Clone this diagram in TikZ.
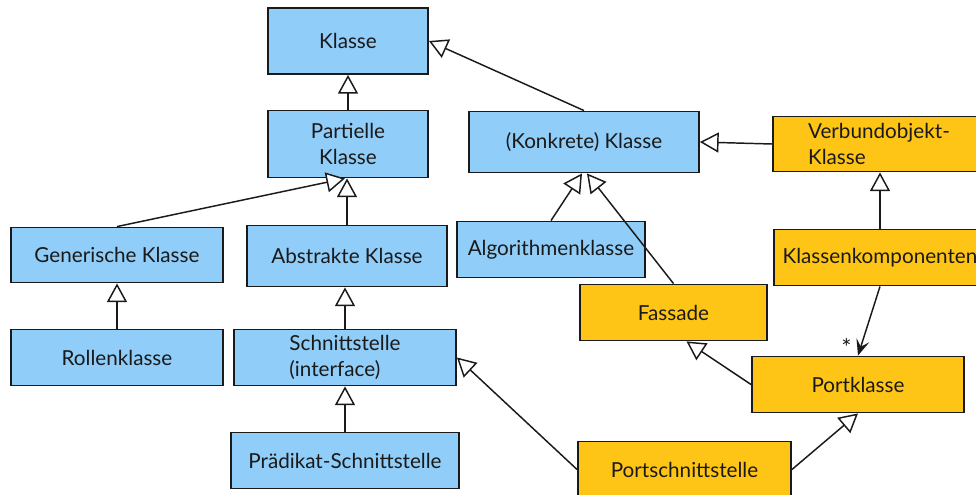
\documentclass[tikz,border=0pt]{standalone}
\usepackage{fontspec}
\setmainfont{Lato}
\usetikzlibrary{arrows.meta,calc}
\definecolor{boxblue}{HTML}{90CDF8}
\definecolor{boxamber}{HTML}{FFC516}
\definecolor{ink}{HTML}{1A1A1A}
\begin{document}
\begin{tikzpicture}[x=0.75pt,y=-0.75pt,
  cls/.style 2 args={draw=ink, line width=1.4pt, inner sep=2pt,
    minimum width=#1*0.75pt, minimum height=#2*0.75pt,
    font=\fontsize{15.5}{19.5}\selectfont, text=ink},
  bluebox/.style 2 args={cls={#1}{#2}, fill=boxblue},
  amberbox/.style 2 args={cls={#1}{#2}, fill=boxamber},
  gen/.style={draw=ink, line width=1.1pt, -{Triangle[length=14pt,width=15pt,fill=white]}},
  assoc/.style={draw=ink, line width=1.1pt, -{Stealth[length=12pt,width=10pt,inset=5pt]}}
]
\clip (0,0) rectangle (976,494);
% nodes
\node[bluebox={160}{66}] (klasse) at (348,41) {Klasse};
\node[bluebox={160}{67}, align=center] (partielle) at (348,144) {Partielle\\Klasse};
\node[bluebox={230}{61}] (konkrete) at (584,142) {(Konkrete) Klasse};
\node[amberbox={212}{55}, align=left] (verbund) at (879,144) {Verbundobjekt-\\Klasse};
\node[bluebox={212}{55}] (generische) at (117,255) {Generische Klasse};
\node[bluebox={200}{61}] (abstrakte) at (347,256) {Abstrakte Klasse};
\node[bluebox={188}{56}] (algo) at (551,249.5) {Algorithmenklasse};
\node[amberbox={212}{56}] (klassenk) at (880,257.5) {Klassenkomponenten};
\node[bluebox={212}{56}] (rollen) at (117,357.5) {Rollenklasse};
\node[bluebox={222}{56}, align=left] (schnitt) at (345,357.5) {Schnittstelle\\(interface)};
\node[amberbox={187}{56}] (fassade) at (673.5,312.5) {Fassade};
\node[amberbox={212}{56}] (portklasse) at (858,384.5) {Portklasse};
\node[bluebox={228}{56}] (praedikat) at (345,460.5) {Prädikat-Schnittstelle};
\node[amberbox={213}{56}] (portschnitt) at (684.5,469.5) {Portschnittstelle};
% generalizations
\draw[gen] (partielle.north) -- (klasse.south);
\draw[gen] (konkrete.north) -- (klasse.east);
\draw[gen] (generische.north) -- ($(partielle.south)+(-3,0)$);
\draw[gen] (abstrakte.north) -- (abstrakte.north |- partielle.south);
\draw[gen] (rollen.north) -- (generische.south);
\draw[gen] (schnitt.north) -- (schnitt.north |- abstrakte.south);
\draw[gen] (praedikat.north) -- (praedikat.north |- schnitt.south);
\draw[gen] (portschnitt.west) -- (schnitt.east);
\draw[gen] (algo.north) -- ($(konkrete.south)+(-2,0)$);
\draw[gen] (fassade.north) -- ($(konkrete.south)+(3,0)$);
\draw[gen] (verbund.west) -- (konkrete.east);
\draw[gen] (klassenk.north) -- (klassenk.north |- verbund.south);
\draw[gen] (portklasse.west) -- ($(fassade.south)+(13,0)$);
\draw[gen] (portschnitt.east) -- (portklasse.south);
% association
\draw[assoc] (klassenk.south) -- (portklasse.north)
  node[pos=0.88, left=3pt, font=\fontsize{18}{20}\selectfont, text=ink] (star) {*};
\end{tikzpicture}
\end{document}
